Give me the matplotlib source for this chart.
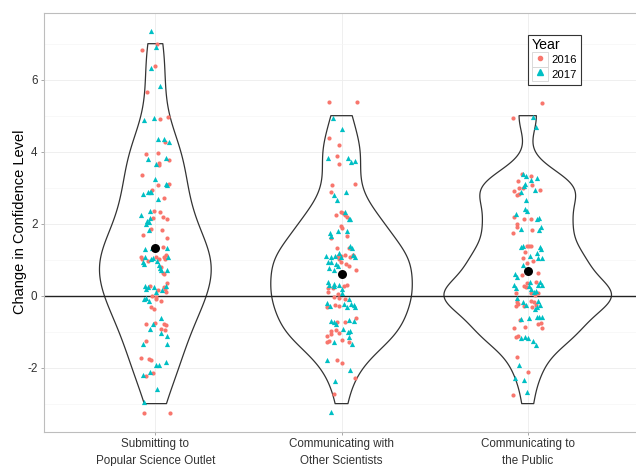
import numpy as np
import matplotlib
matplotlib.use("Agg")
import matplotlib.pyplot as plt
from matplotlib.lines import Line2D
from matplotlib.patches import Rectangle
from matplotlib.legend_handler import HandlerLine2D

plt.rcParams['font.family'] = ['Liberation Sans', 'DejaVu Sans']
plt.rcParams['axes.unicode_minus'] = False

# Categories and summary values
categories = ["Submitting to\nPopular Science Outlet",
              "Communicating with\nOther Scientists",
              "Communicating to\nthe Public"]
group_means = [1.33, 0.61, 0.69]
years = ["2016", "2017"]

# Jittered responses as (x offset from category centre, value)
g1_2016 = [(0.007, 6.98), (-0.071, 6.82), (-0.002, 6.39), (-0.045, 5.65), (0.024, 4.92), (0.067, 4.95),
           (0.052, 4.27), (-0.048, 3.94), (0.016, 3.95), (0.075, 3.77), (0.018, 3.68), (0.018, 3.64),
           (-0.071, 3.34), (-0.016, 2.93), (0.013, 3.08), (0.075, 3.09), (0.047, 2.70), (-0.005, 2.35),
           (0.024, 2.33), (-0.011, 2.15), (0.043, 2.19), (0.064, 2.13), (-0.021, 1.86), (0.038, 1.83),
           (-0.064, 1.69), (0.063, 1.61), (0.040, 1.34), (-0.077, 1.08), (-0.072, 1.02), (0.004, 1.08),
           (0.018, 1.03), (0.048, 1.08), (0.052, 1.02), (0.056, 1.14), (-0.039, 0.96), (0.030, 0.80),
           (0.040, 0.64), (0.045, 0.60), (0.061, 0.34), (-0.027, 0.27), (0.045, 0.25), (0.054, 0.19),
           (0.013, 0.16), (0.057, 0.09), (-0.019, -0.01), (0.005, -0.03), (0.005, -0.08), (0.032, -0.15),
           (-0.025, -0.32), (-0.009, -0.38), (-0.050, -0.78), (-0.003, -0.75), (0.045, -0.78), (0.057, -0.82),
           (0.032, -0.93), (0.050, -0.95), (-0.052, -1.26), (-0.075, -1.74), (-0.032, -1.77), (-0.023, -1.80),
           (-0.012, -2.16), (-0.050, -2.22), (-0.061, -3.26), (0.079, -3.26)]
g1_2017 = [(-0.023, 7.35), (0.002, 6.92), (-0.023, 6.33), (0.027, 5.83), (-0.062, 4.87), (-0.007, 4.94),
           (0.015, 4.36), (0.048, 4.36), (0.072, 4.27), (-0.039, 3.81), (0.056, 3.83), (0.004, 3.67),
           (0.000, 3.24), (-0.039, 2.88), (-0.030, 2.88), (-0.025, 2.88), (-0.068, 2.83), (0.056, 3.11),
           (0.063, 3.07), (0.016, 2.68), (-0.078, 2.24), (-0.030, 2.35), (-0.027, 2.15), (-0.045, 2.08),
           (-0.036, 2.04), (-0.050, 1.99), (-0.036, 1.83), (-0.055, 1.29), (-0.016, 1.33), (0.063, 1.33),
           (-0.055, 1.07), (-0.023, 1.03), (-0.012, 1.05), (0.067, 1.06), (-0.068, 0.94), (-0.062, 0.88),
           (0.009, 0.96), (0.020, 0.84), (0.024, 0.76), (0.029, 0.70), (0.061, 0.70), (-0.054, 0.27),
           (-0.039, 0.23), (-0.009, 0.23), (-0.050, 0.19), (0.034, 0.16), (0.059, 0.27), (0.002, 0.11),
           (-0.059, -0.10), (-0.052, -0.06), (-0.032, -0.14), (-0.014, -0.79), (-0.028, -0.93), (0.032, -0.62),
           (0.029, -1.05), (0.064, -1.12), (-0.068, -1.33), (0.061, -1.35), (0.005, -1.92), (0.018, -1.92),
           (0.056, -1.84), (-0.027, -2.13), (-0.068, -2.21), (0.011, -2.60), (-0.061, -2.96)]
g2_2016 = [(-0.067, 5.37), (0.081, 5.37), (-0.068, 4.37), (-0.011, 4.19), (-0.024, 3.88), (-0.016, 3.65),
           (-0.052, 3.06), (0.070, 3.09), (-0.059, 2.88), (-0.031, 2.25), (-0.002, 2.33), (0.009, 2.29),
           (0.019, 2.24), (0.028, 2.18), (-0.002, 1.94), (0.005, 1.89), (-0.057, 1.61), (0.030, 1.67),
           (-0.027, 1.31), (-0.021, 1.10), (-0.004, 1.11), (0.019, 1.13), (0.045, 1.08), (0.062, 1.13),
           (0.039, 1.32), (-0.011, 1.01), (-0.005, 0.94), (0.025, 0.87), (0.039, 0.83), (0.077, 0.71),
           (-0.070, 0.22), (-0.075, 0.09), (-0.048, 0.21), (0.014, 0.28), (0.032, 0.29), (-0.043, -0.03),
           (-0.015, -0.07), (-0.080, -0.32), (-0.036, -0.26), (-0.013, -0.28), (0.018, -0.10), (-0.020, 0.05),
           (-0.027, -0.72), (0.021, -0.74), (0.077, -0.61), (-0.057, -0.97), (-0.032, -0.95), (-0.077, -1.11),
           (-0.057, -1.07), (-0.011, -1.05), (-0.079, -1.28), (-0.068, -1.25), (0.000, -1.23), (0.039, -1.29),
           (-0.027, -1.79), (0.000, -1.88), (0.071, -2.28), (-0.043, -2.74)]
g2_2017 = [(-0.048, 4.94), (0.002, 4.62), (-0.070, 3.82), (0.034, 3.83), (0.052, 3.71), (0.073, 3.73),
           (-0.043, 2.79), (0.025, 2.88), (-0.027, 2.66), (0.016, 2.32), (0.038, 2.13), (0.046, 2.13),
           (-0.020, 1.80), (-0.063, 1.73), (-0.054, 1.67), (0.030, 1.80), (-0.084, 1.10), (-0.059, 1.08),
           (-0.036, 1.10), (-0.013, 1.18), (-0.005, 1.06), (0.048, 1.39), (0.055, 1.32), (0.064, 1.12),
           (0.071, 1.08), (-0.075, 0.93), (-0.054, 0.93), (-0.031, 0.87), (-0.020, 0.83), (-0.068, 0.78),
           (-0.041, 0.71), (-0.074, 0.37), (-0.067, 0.30), (-0.040, 0.33), (-0.038, 0.27), (-0.016, 0.29),
           (0.002, 0.19), (0.005, 0.07), (-0.077, -0.21), (-0.063, -0.28), (0.041, -0.10), (0.052, -0.23),
           (0.068, -0.26), (0.014, -0.23), (0.030, -0.32), (0.071, -0.32), (-0.054, -0.70), (-0.043, -0.74),
           (-0.031, -0.79), (0.038, -0.69), (0.066, -0.70), (0.009, -0.93), (0.036, -1.02), (0.045, -0.98),
           (0.041, -1.16), (-0.041, -1.29), (0.055, -1.35), (-0.077, -1.80), (0.046, -2.06), (-0.034, -2.36),
           (-0.054, -3.24)]
g3_2016 = [(0.078, 5.36), (-0.077, 4.94), (-0.031, 3.39), (0.016, 3.32), (-0.054, 3.19), (-0.045, 3.00),
           (-0.027, 3.00), (0.021, 3.06), (-0.074, 2.92), (0.066, 2.94), (-0.059, 2.80), (-0.048, 2.83),
           (-0.074, 2.18), (-0.021, 2.13), (0.018, 2.12), (-0.059, 1.99), (-0.056, 1.92), (0.021, 1.82),
           (-0.079, 1.75), (-0.005, 1.39), (0.007, 1.39), (0.019, 1.37), (-0.016, 1.22), (-0.027, 1.04),
           (0.027, 0.96), (-0.004, 0.90), (0.054, 0.62), (-0.029, 0.57), (-0.005, 0.34), (-0.011, 0.25),
           (-0.020, 0.27), (0.045, 0.39), (-0.063, 0.07), (0.016, 0.07), (0.038, 0.02), (0.054, 0.07),
           (-0.059, -0.17), (-0.050, -0.24), (-0.063, -0.28), (0.018, -0.14), (0.034, -0.18), (0.043, -0.26),
           (-0.018, -0.30), (0.021, -0.32), (-0.040, -0.69), (-0.015, -0.86), (0.071, -0.77), (0.079, -0.91),
           (-0.075, -0.91), (0.055, -0.79), (-0.054, -1.11), (-0.061, -1.15), (-0.056, -1.71), (0.002, -2.13),
           (-0.077, -2.76)]
g3_2017 = [(0.027, 4.96), (0.045, 4.68), (-0.027, 3.37), (-0.008, 3.31), (0.048, 3.28), (0.016, 3.20),
           (-0.016, 3.09), (-0.021, 3.05), (-0.038, 2.89), (0.041, 2.94), (-0.011, 2.66), (-0.015, 2.40),
           (-0.002, 2.36), (-0.064, 2.27), (0.050, 2.13), (0.061, 2.15), (-0.036, 1.85), (0.070, 1.90),
           (0.062, 1.81), (-0.034, 1.34), (-0.025, 1.38), (0.066, 1.34), (0.071, 1.29), (0.052, 1.18),
           (0.014, 1.11), (0.055, 1.04), (0.075, 1.04), (-0.024, 0.85), (-0.068, 0.59), (-0.059, 0.53),
           (0.012, 0.37), (0.007, 0.28), (0.064, 0.37), (0.075, 0.30), (0.057, 0.30), (-0.074, 0.30),
           (-0.064, 0.21), (0.019, 0.18), (0.032, 0.09), (0.045, 0.13), (-0.059, -0.06), (-0.024, -0.19),
           (-0.009, -0.26), (0.057, -0.15), (0.066, -0.26), (0.041, -0.37), (0.052, -0.32), (-0.038, -0.65),
           (0.005, -0.63), (0.048, -0.60), (0.062, -0.60), (0.075, -0.60), (-0.034, -1.19), (-0.016, -1.16),
           (0.002, -1.18), (0.027, -1.26), (0.043, -1.37), (-0.047, -1.93), (-0.068, -2.30), (-0.018, -2.35),
           (-0.004, -2.69)]

groups = [(g1_2016, g1_2017), (g2_2016, g2_2017), (g3_2016, g3_2017)]
col_2016 = '#F8766D'
col_2017 = '#00BFC4'

fig = plt.figure(figsize=(6.36, 4.66), dpi=100)
ax = fig.add_axes([0.0686, 0.0736, 0.9368, 0.8991])

# violins from the underlying (integer) responses, ggplot-like nrd0 bandwidth
def nrd0(kde):
    d = kde.dataset.ravel()
    sd = d.std(ddof=1)
    iqr = np.subtract(*np.percentile(d, [75, 25]))
    return 0.9 * min(sd, iqr / 1.34) / sd * d.size ** -0.2

responses = [np.round(np.array([p[1] for p in a + b])) for a, b in groups]
positions = [1, 2, 3]
for pos, resp, w in zip(positions, responses, [0.60, 0.76, 0.90]):
    vp = ax.violinplot([resp], positions=[pos], widths=w, showextrema=False,
                       bw_method=nrd0, points=200)
    for body in vp['bodies']:
        body.set_facecolor('none')
        body.set_edgecolor('#333333')
        body.set_linewidth(0.9)
        body.set_alpha(1)
        body.set_zorder(2)

ax.axhline(0, color='#222222', lw=1.0, zorder=2.5)

for pos, (a, b) in zip(positions, groups):
    a = np.array(a)
    b = np.array(b)
    ax.scatter(pos + a[:, 0], a[:, 1], s=9, marker='o', color=col_2016, lw=0, zorder=3)
    ax.scatter(pos + b[:, 0], b[:, 1], s=14, marker='^', color=col_2017, lw=0, zorder=3)

ax.scatter(positions, group_means, s=42, color='black', zorder=4, lw=0)

ax.set_xlim(0.4, 3.6)
ax.set_ylim(-3.78, 7.86)
ax.set_xticks(positions)
ax.set_xticklabels(categories, linespacing=1.6)
ax.set_yticks([-2, 0, 2, 4, 6])
ax.set_yticks([-3, -1, 1, 3, 5, 7], minor=True)
ax.grid(True, which='major', color='#EDEDED', lw=0.6, zorder=0)
ax.grid(True, which='minor', axis='y', color='#F5F5F5', lw=0.5, zorder=0)
ax.set_axisbelow(True)
ax.tick_params(axis='both', which='major', length=2.5, width=0.6, color='#9A9A9A',
               labelsize=8.4, labelcolor='#333333', pad=2)
ax.tick_params(axis='y', which='minor', length=0)
for s in ax.spines.values():
    s.set_color('#BDBDBD')
    s.set_linewidth(0.8)
ax.set_ylabel('Change in Confidence Level', fontsize=10.5, labelpad=0)


class KeyBox(HandlerLine2D):
    # legend key with a light grey box behind the marker, as in ggplot
    def create_artists(self, legend, orig_handle, xdescent, ydescent,
                       width, height, fontsize, trans):
        box = Rectangle((-xdescent, -ydescent), width, height, transform=trans,
                        facecolor='white', edgecolor='#D5D5D5', lw=0.6)
        arts = super().create_artists(legend, orig_handle, xdescent, ydescent,
                                      width, height, fontsize, trans)
        return [box] + list(arts)


handles = [Line2D([], [], marker='o', ls='', color=col_2016, markersize=3),
           Line2D([], [], marker='^', ls='', color=col_2017, markersize=3.8)]
leg = ax.legend(handles, years, title='Year', loc='upper left',
                bbox_to_anchor=(0.813, 0.948), borderaxespad=0, fontsize=8.1,
                title_fontsize=10.2, alignment='left', fancybox=False,
                handlelength=1.45, handleheight=1.6, handletextpad=0.3,
                borderpad=0.35, labelspacing=0.0, framealpha=1,
                handler_map={Line2D: KeyBox(numpoints=1)})
leg.get_frame().set_edgecolor('#333333')
leg.get_frame().set_linewidth(0.8)

fig.savefig('out.png', dpi=100)
